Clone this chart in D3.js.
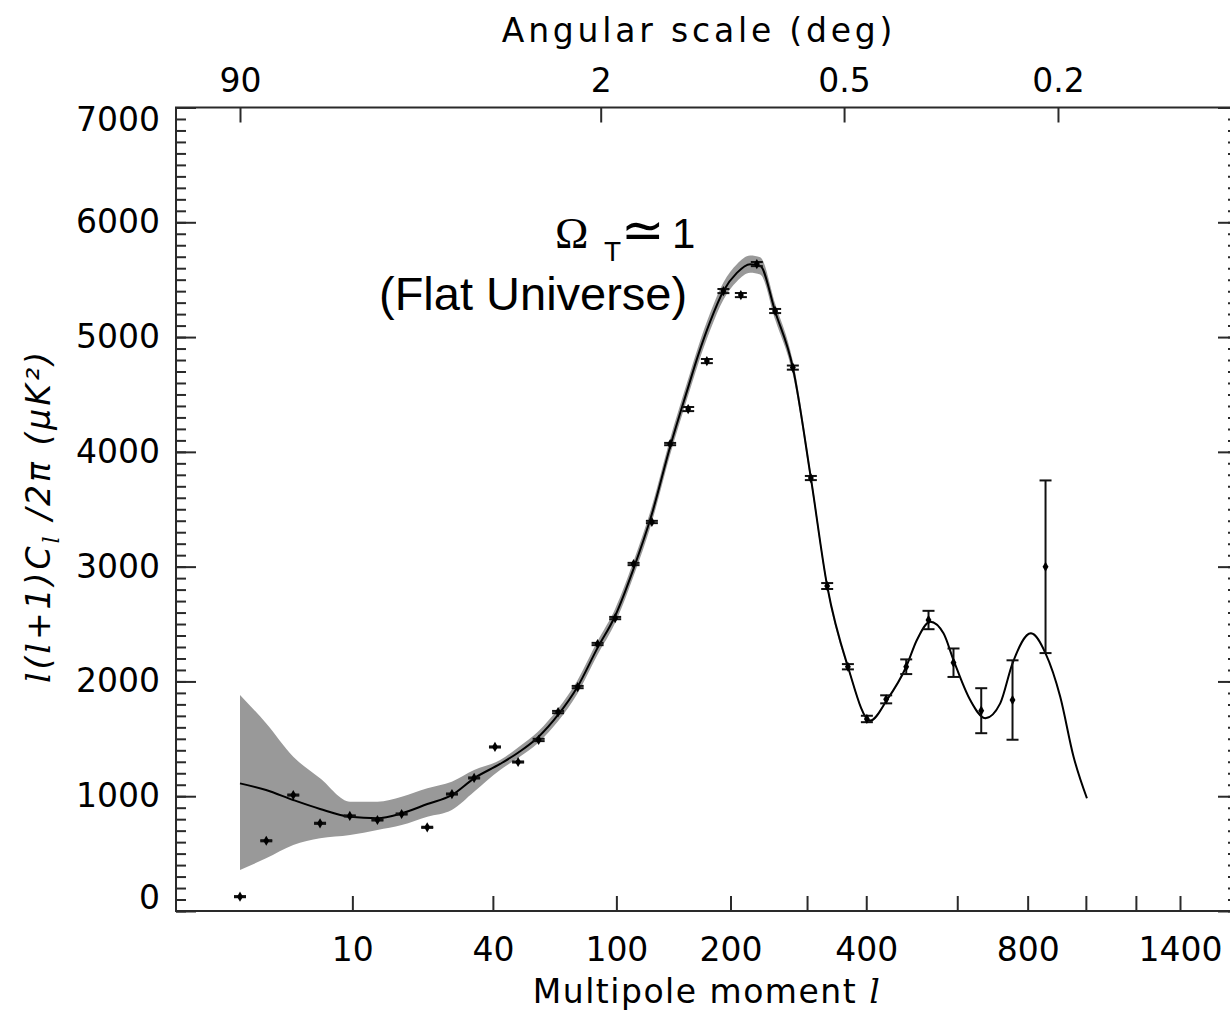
<!DOCTYPE html>
<html>
<head>
<meta charset="utf-8">
<script src="https://cdn.jsdelivr.net/npm/d3@7"></script>
<style>
  body { margin: 0; background: #fff; }
  svg { display: block; }
</style>
</head>
<body>
<svg id="chart" width="1230" height="1013"></svg>
<script>
// binned power spectrum points (multipole, D_l in uK^2, 1-sigma error)
const dataL = [2, 3.1, 4.65, 6.7, 9.7, 13.3, 17.2, 22.2, 28, 34.1,
  40.7, 49.1, 57.6, 66.6, 76.7, 88.1, 99.2, 111.9, 125.7, 140.7,
  156.8, 174.9, 192.2, 211.8, 231, 254.6, 279.1, 305.8, 331.6, 366.7,
  401.2, 438.7, 480.4, 530.2, 590.5, 663.3, 753.3, 857.9];
const dataD = [125, 612, 1010, 764, 828, 793, 845, 729, 1019, 1159,
  1429, 1298, 1490, 1733, 1951, 2326, 2552, 3023, 3389, 4068,
  4373, 4791, 5401, 5366, 5636, 5227, 4734, 3772, 2831, 2128,
  1673, 1844, 2128, 2535, 2163, 1745, 1838, 2999];
const dataErr = [5, 5, 5, 5, 5, 5, 5, 5, 5, 5,
  5, 5, 10, 10, 10, 10, 10, 10, 10, 10,
  18, 18, 18, 18, 18, 18, 18, 18, 26, 23,
  28, 35, 64, 80, 124, 196, 346, 752];

// best fit model curve and its grey uncertainty band
const curveL = [2, 3.09, 4.65, 6.7, 9.73, 13.29, 17.22, 22.23, 27.95, 34.09,
  42.46, 49.21, 57.48, 66.75, 76.55, 88.0, 99.16, 111.79, 125.7, 140.7,
  155.56, 166.57, 178.23, 192.2, 207.16, 222.8, 235.2, 254.6, 279.1, 305.8,
  331.6, 366.7, 407.4, 440.2, 480.4, 503.8, 534.2, 565.8, 590.5, 633.6,
  674.3, 716.9, 753.3, 810.4, 857.9, 907.8, 954.9, 1004];
const curveD = [1112, 1054, 967, 889, 821, 808, 851, 932, 1010, 1156,
  1281, 1381, 1516, 1712, 1951, 2290, 2570, 2979, 3458, 4045,
  4525, 4849, 5134, 5401, 5559, 5635, 5620, 5223, 4734, 3773,
  2831, 2128, 1658, 1838, 2128, 2361, 2520, 2419, 2186, 1838,
  1679, 1809, 2158, 2419, 2245, 1867, 1344, 982];
const bandLo = [357, 459, 575, 633, 662, 706, 749, 821, 880, 1039,
  1228, 1336, 1466, 1657, 1893, 2230, 2508, 2914, 3390, 3975,
  4453, 4775, 5059, 5326, 5484, 5560, 5545, 5153, 4674, 3728,
  2801, 2110, 1646, 1830, 2120, 2353, 2512, 2411, 2178, 1830,
  1671, 1801, 2150, 2411, 2237, 1859, 1336, 974];
const bandHi = [1882, 1635, 1344, 1156, 952, 952, 996, 1069, 1126, 1228,
  1315, 1426, 1566, 1767, 2009, 2350, 2632, 3044, 3526, 4115,
  4597, 4923, 5209, 5476, 5634, 5710, 5695, 5293, 4794, 3818,
  2861, 2146, 1670, 1846, 2136, 2369, 2528, 2427, 2194, 1846,
  1687, 1817, 2166, 2427, 2253, 1875, 1352, 990];

// axes
const xTickVals = [10, 40, 100, 200, 300, 400, 600, 800, 1000, 1200, 1400];
const xLabelVals = [10, 40, 100, 200, 400, 800, 1400];
const topDeg = [90, 2, 0.5, 0.2];
const yMajor = [0, 1000, 2000, 3000, 4000, 5000, 6000, 7000];
const yMinor = d3.range(0, 7001, 100);

const frame = {left: 176, right: 1238, top: 107.5, bottom: 911};
const tickFont = '"DejaVu Sans", sans-serif';
const axisColor = '#2a2a2a';

const svg = d3.select('#chart');

const x = d3.scalePow().exponent(0.25)
  .domain([2, 1400])
  .range([240, 1180]);

const y = d3.scaleLinear()
  .domain([0, 7000])
  .range([frame.bottom, frame.top]);

const rows = curveL.map((l, i) => ({l: l, d: curveD[i], lo: bandLo[i], hi: bandHi[i]}));
const pts = dataL.map((l, i) => ({l: l, d: dataD[i], e: dataErr[i]}));

// grey band
svg.append('path')
  .datum(rows)
  .attr('fill', '#999')
  .attr('d', d3.area()
    .x(d => x(d.l))
    .y0(d => y(d.lo))
    .y1(d => y(d.hi))
    .curve(d3.curveMonotoneX));

// model curve
svg.append('path')
  .datum(rows)
  .attr('fill', 'none')
  .attr('stroke', '#000')
  .attr('stroke-width', 2)
  .attr('d', d3.line()
    .x(d => x(d.l))
    .y(d => y(d.d))
    .curve(d3.curveMonotoneX));

// error bars
const bars = svg.append('g')
  .attr('stroke', '#111')
  .attr('stroke-width', 2)
  .selectAll('g')
  .data(pts)
  .join('g')
    .attr('transform', d => `translate(${x(d.l)},0)`);

bars.append('line')
  .attr('y1', d => y(d.d - d.e))
  .attr('y2', d => y(d.d + d.e));
bars.append('line')
  .attr('x1', -6).attr('x2', 6)
  .attr('y1', d => y(d.d - d.e))
  .attr('y2', d => y(d.d - d.e));
bars.append('line')
  .attr('x1', -6).attr('x2', 6)
  .attr('y1', d => y(d.d + d.e))
  .attr('y2', d => y(d.d + d.e));

svg.append('g')
  .selectAll('path')
  .data(pts)
  .join('path')
    .attr('transform', d => `translate(${x(d.l)},${y(d.d)})`)
    .attr('d', d3.symbol(d3.symbolDiamond, 30))
    .attr('fill', '#000');

// frame
svg.append('path')
  .attr('fill', 'none')
  .attr('stroke', axisColor)
  .attr('stroke-width', 2)
  .attr('d', `M${frame.right},${frame.top}H${frame.left}V${frame.bottom}H${frame.right}`);

function styleTicks(g) {
  g.select('.domain').remove();
  g.selectAll('line').attr('stroke', axisColor).attr('stroke-width', 2);
}

// left + right minor / major ticks
svg.append('g').attr('transform', `translate(${frame.left},0)`)
  .call(d3.axisRight(y).tickValues(yMinor).tickSize(10).tickFormat(''))
  .call(styleTicks);
svg.append('g').attr('transform', `translate(${frame.left},0)`)
  .call(d3.axisRight(y).tickValues(yMajor).tickSize(20).tickFormat(''))
  .call(styleTicks);
svg.append('g').attr('transform', `translate(${frame.right},0)`)
  .call(d3.axisLeft(y).tickValues(yMinor).tickSize(10).tickFormat(''))
  .call(styleTicks);
svg.append('g').attr('transform', `translate(${frame.right},0)`)
  .call(d3.axisLeft(y).tickValues(yMajor).tickSize(20).tickFormat(''))
  .call(styleTicks);

// y labels
const yLab = svg.append('g').attr('transform', `translate(${frame.left},0)`)
  .call(d3.axisLeft(y).tickValues(yMajor).tickSize(0).tickPadding(16)
    .tickFormat(d3.format('d')))
  .call(styleTicks);
yLab.attr('font-size', 33).attr('font-family', tickFont);
yLab.selectAll('text').attr('fill', '#000')
  .attr('y', d => d === 0 ? -13 : (d === 7000 ? 12.5 : 0));

// bottom ticks + labels
svg.append('g').attr('transform', `translate(0,${frame.bottom})`)
  .call(d3.axisTop(x).tickValues(xTickVals).tickSize(15).tickFormat(''))
  .call(styleTicks);
const xLab = svg.append('g').attr('transform', `translate(0,${frame.bottom})`)
  .call(d3.axisBottom(x).tickValues(xLabelVals).tickSize(0).tickPadding(27)
    .tickFormat(d3.format('d')))
  .call(styleTicks);
xLab.attr('font-size', 33).attr('font-family', tickFont);
xLab.selectAll('text').attr('fill', '#000');

// top (angular scale) ticks + labels
svg.append('g').attr('transform', `translate(0,${frame.top})`)
  .call(d3.axisBottom(x).tickValues(topDeg.map(d => 180 / d)).tickSize(15).tickFormat(''))
  .call(styleTicks);
const topLab = svg.append('g').attr('transform', `translate(0,${frame.top})`)
  .call(d3.axisTop(x).tickValues(topDeg.map(d => 180 / d)).tickSize(0).tickPadding(16)
    .tickFormat(d => String(+(180 / d).toFixed(2))))
  .call(styleTicks);
topLab.attr('font-size', 33).attr('font-family', tickFont);
topLab.selectAll('text').attr('fill', '#000');

// axis titles
svg.append('text')
  .attr('x', 699).attr('y', 42)
  .attr('text-anchor', 'middle')
  .attr('font-family', tickFont).attr('font-size', 33)
  .attr('letter-spacing', 3.8)
  .text('Angular scale (deg)');

const xt = svg.append('text')
  .attr('x', 707).attr('y', 1003)
  .attr('text-anchor', 'middle')
  .attr('font-family', tickFont).attr('font-size', 33)
  .attr('letter-spacing', 1.5);
xt.append('tspan').text('Multipole moment ');
xt.append('tspan').attr('font-family', '"DejaVu Serif", serif').attr('font-style', 'italic').text('l');

const ital = '"DejaVu Serif", serif';
const yt = svg.append('text')
  .attr('transform', 'translate(50,516) rotate(-90)')
  .attr('text-anchor', 'middle')
  .attr('font-family', tickFont).attr('font-size', 33)
  .attr('font-style', 'italic')
  .attr('letter-spacing', 3);
yt.append('tspan').attr('font-family', ital).text('l');
yt.append('tspan').text('(');
yt.append('tspan').attr('font-family', ital).text('l');
yt.append('tspan').text('+1)C');
yt.append('tspan').attr('font-family', ital)
  .attr('font-size', 22).attr('dy', 9).text('l');
yt.append('tspan').attr('dy', -9).text(' /2π (μK²)');

// annotation
const om = svg.append('text').attr('y', 248);
om.append('tspan').attr('x', 555)
  .attr('font-family', '"Liberation Serif", serif').attr('font-size', 45).text('Ω');
om.append('tspan').attr('x', 604).attr('dy', 13)
  .attr('font-family', '"Liberation Sans", sans-serif').attr('font-size', 28).text('T');
om.append('tspan').attr('x', 621).attr('dy', -13)
  .attr('font-family', tickFont).attr('font-size', 52).text('≃');
om.append('tspan').attr('x', 672)
  .attr('font-family', '"Liberation Sans", sans-serif').attr('font-size', 42).text('1');

svg.append('text')
  .attr('x', 379).attr('y', 310)
  .attr('font-family', '"Liberation Sans", sans-serif').attr('font-size', 47)
  .text('(Flat Universe)');
</script>
</body>
</html>
